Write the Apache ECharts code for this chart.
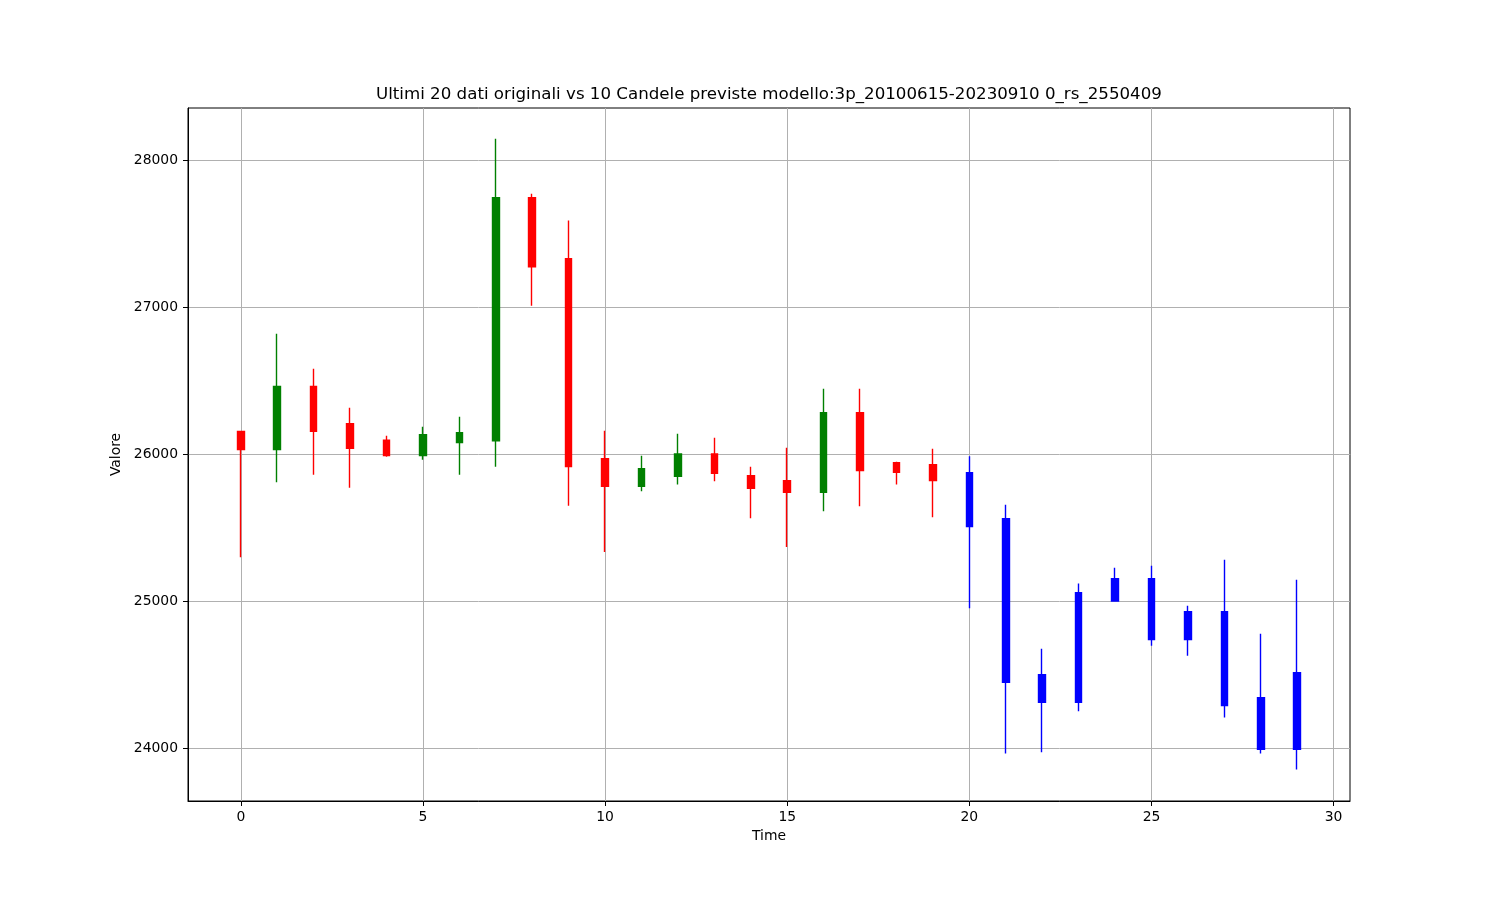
<!DOCTYPE html>
<html>
<head>
<meta charset="utf-8">
<script src="https://cdn.jsdelivr.net/npm/echarts@6/dist/echarts.min.js"></script>
<style>
html,body{margin:0;padding:0;background:#fff;}
#chart{width:1500px;height:900px;}
</style>
</head>
<body>
<div id="chart"></div>
<script>
// Original candles (time 0..19)
const origTime  = [0,1,2,3,4,5,6,7,8,9,10,11,12,13,14,15,16,17,18,19];
const origOpen  = [26154,26031,26460,26206,26093,25990,26077,26090,27744,27329,25968,25780,25848,26000,25852,25818,25739,26281,25941,25927];
const origClose = [26031,26460,26154,26038,25990,26131,26145,27744,27274,25914,25780,25900,26000,25868,25766,25739,26281,25888,25875,25820];
const origLow   = [25297,25807,25859,25771,25982,25961,25859,25914,27009,25648,25333,25746,25793,25814,25562,25367,25610,25644,25793,25569];
const origHigh  = [26154,26818,26580,26315,26124,26186,26254,28145,27770,27588,26158,25988,26138,26111,25914,26043,26444,26444,25948,26036];

// Predicted candles (time 20..29)
const predTime  = [20,21,22,23,24,25,26,27,28,29];
const predOpen  = [25873,25560,24310,24310,25000,25151,24737,24927,24342,23990];
const predClose = [25507,24446,24499,25056,25151,24737,24927,24288,23990,24512];
const predLow   = [24950,23963,23970,24249,25000,24696,24628,24207,23963,23854];
const predHigh  = [25984,25655,24675,25118,25226,25240,24968,25281,24777,25145];

// Axis ticks
const xTicks = [0,5,10,15,20,25,30];
const yTicks = [24000,25000,26000,27000,28000];

const titleText = 'Ultimi 20 dati originali vs 10 Candele previste modello:3p_20100615-20230910 0_rs_2550409';

function build(t,o,c,l,h){ return t.map((x,i)=>[x,o[i],c[i],l[i],h[i]]); }

const FONT = 'DejaVu Sans';
const chart = echarts.init(document.getElementById('chart'), null, {renderer:'canvas'});
chart.setOption({
  animation:false,
  backgroundColor:'#fff',
  title:{
    text:titleText,
    left:376, top:86, padding:0,
    textStyle:{fontFamily:FONT,fontSize:16.67,fontWeight:'normal',color:'#000'}
  },
  grid:{left:188,right:150,top:108,bottom:99,show:true,borderColor:'#000',borderWidth:1,backgroundColor:'transparent'},
  xAxis:{
    type:'value', min:-1.45, max:30.45,
    name:'Time', nameLocation:'middle', nameGap:28,
    nameTextStyle:{fontFamily:FONT,fontSize:13.9,color:'#000'},
    axisLine:{show:true,onZero:false,lineStyle:{color:'#000',width:1}},
    axisTick:{show:true,inside:false,length:5,lineStyle:{color:'#000'},customValues:xTicks},
    axisLabel:{fontFamily:FONT,fontSize:13.9,color:'#000',margin:9,customValues:xTicks,formatter:v=>String(v)},
    splitLine:{show:true,lineStyle:{color:'#b0b0b0',width:1}}
  },
  yAxis:{
    type:'value', min:23639, max:28354,
    name:'Valore', nameLocation:'middle', nameGap:50, nameRotate:90,
    nameTextStyle:{fontFamily:FONT,fontSize:13.9,color:'#000'},
    axisLine:{show:true,onZero:false,lineStyle:{color:'#000',width:1}},
    axisTick:{show:true,inside:false,length:5,lineStyle:{color:'#000'},customValues:yTicks},
    axisLabel:{fontFamily:FONT,fontSize:13.9,color:'#000',margin:10,customValues:yTicks,formatter:v=>String(v)},
    splitLine:{show:true,lineStyle:{color:'#b0b0b0',width:1}}
  },
  series:[
    {
      type:'candlestick',
      name:'originali',
      barWidth:7,
      encode:{x:0,y:[1,2,3,4]},
      data:build(origTime,origOpen,origClose,origLow,origHigh),
      itemStyle:{color:'#008000',color0:'#ff0000',borderColor:'#008000',borderColor0:'#ff0000',borderWidth:1.4}
    },
    {
      type:'candlestick',
      name:'previste',
      barWidth:7,
      encode:{x:0,y:[1,2,3,4]},
      data:build(predTime,predOpen,predClose,predLow,predHigh),
      itemStyle:{color:'#0000ff',color0:'#0000ff',borderColor:'#0000ff',borderColor0:'#0000ff',borderWidth:1.4}
    }
  ]
});
</script>
</body>
</html>
